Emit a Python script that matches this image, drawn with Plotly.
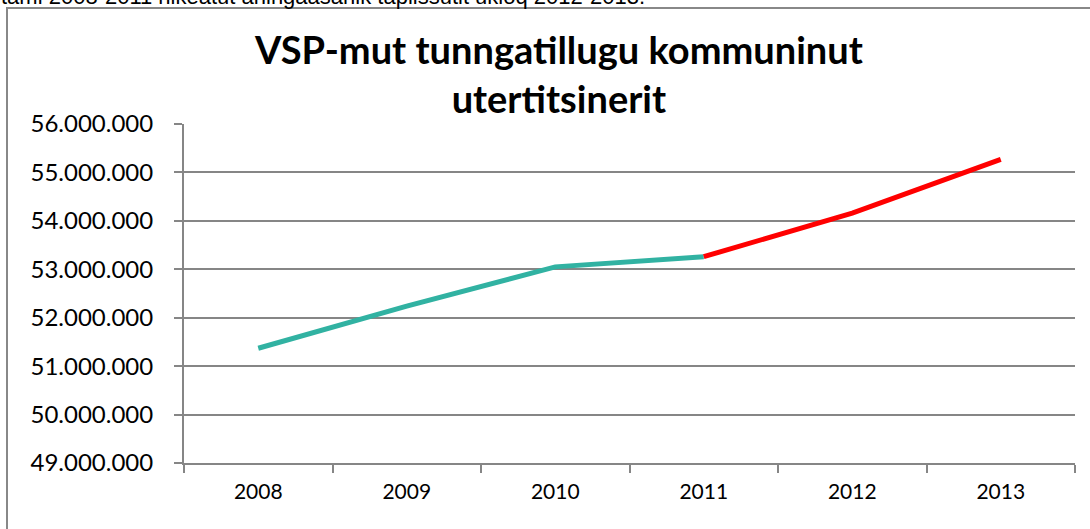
import plotly.graph_objects as go

years = ["2008", "2009", "2010", "2011", "2012", "2013"]
hist_years = ["2008", "2009", "2010", "2011"]
hist_values = [51370000, 52240000, 53050000, 53260000]
proj_years = ["2011", "2012", "2013"]
proj_values = [53260000, 54160000, 55270000]
y_ticks = [49000000, 50000000, 51000000, 52000000, 53000000, 54000000, 55000000, 56000000]
y_tick_labels = ["49.000.000", "50.000.000", "51.000.000", "52.000.000",
                 "53.000.000", "54.000.000", "55.000.000", "56.000.000"]
title_text = "<b>VSP-mut tunngatillugu kommuninut<br>utertitsinerit</b>"
top_text = "tami 2008-2011 nikeatut aningaasanik tapiissutit ukioq 2012-2013."

W, H = 1090, 529
L, R, T, B = 184, 15, 124, 66
pw, ph = W - L - R, H - T - B

def px(x):
    return (x - L) / pw

def py(y):
    return (H - B - y) / ph

fig = go.Figure()
fig.add_trace(go.Scatter(x=hist_years, y=hist_values, mode="lines",
                         line=dict(color="#31B2A2", width=5), showlegend=False))
fig.add_trace(go.Scatter(x=proj_years, y=proj_values, mode="lines",
                         line=dict(color="#FF0000", width=5), showlegend=False))

fig.update_layout(
    width=W, height=H,
    margin=dict(l=L, r=R, t=T, b=B),
    paper_bgcolor="white", plot_bgcolor="white",
    font=dict(family="Lato, sans-serif", color="black"),
    xaxis=dict(type="category", categoryorder="array", categoryarray=years,
               range=[-0.5, 5.5], showgrid=False, showline=True,
               linecolor="#868686", linewidth=2, ticks="outside",
               tickson="boundaries", ticklen=8, tickcolor="#868686",
               tickwidth=1.5, tickfont=dict(size=21), ticklabelstandoff=9,
               fixedrange=True),
    yaxis=dict(range=[49000000, 56000000], tickvals=y_ticks, ticktext=y_tick_labels,
               showgrid=True, gridcolor="#868686", gridwidth=1.5,
               showline=True, linecolor="#868686", linewidth=2,
               ticks="outside", ticklen=8, tickcolor="#868686", tickwidth=1.5,
               tickfont=dict(size=24), ticklabelstandoff=16,
               zeroline=False, fixedrange=True),
    shapes=[dict(type="rect", xref="paper", yref="paper",
                 x0=px(7), x1=px(1100), y0=py(540), y1=py(8),
                 line=dict(color="#888888", width=2), fillcolor="rgba(0,0,0,0)",
                 layer="below")],
    annotations=[
        dict(text=title_text, xref="paper", yref="paper", x=px(558), y=py(74),
             xanchor="center", yanchor="middle", showarrow=False,
             font=dict(size=38, family="Lato, sans-serif", color="black")),
        dict(text=top_text, xref="paper", yref="paper", x=px(-1), y=py(-3),
             xanchor="left", yanchor="middle", showarrow=False,
             font=dict(size=22, family="Liberation Sans, Arial, sans-serif", color="black")),
    ],
)

fig.write_html("out.html", config={"displayModeBar": False},
               post_script="document.body.style.margin='0';document.body.style.overflow='hidden';")
